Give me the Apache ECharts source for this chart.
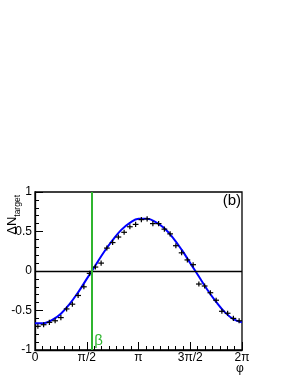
<!DOCTYPE html>
<html>
<head>
<meta charset="utf-8">
<script src="https://cdn.jsdelivr.net/npm/echarts@6/dist/echarts.min.js"></script>
<style>
html,body{margin:0;padding:0;background:#fff;}
#c{width:291px;height:376px;}
</style>
</head>
<body>
<div id="c"></div>
<script>
// x in units of pi
var binCentersPi = [];
var dataValues = [-0.70,-0.68,-0.65,-0.63,-0.59,-0.48,-0.42,-0.31,-0.20,-0.03,0.05,0.10,
  0.29,0.36,0.43,0.49,0.56,0.59,0.65,0.66,0.60,0.60,0.53,0.47,
  0.32,0.23,0.14,0.08,-0.165,-0.19,-0.275,-0.37,-0.51,-0.535,-0.60,-0.63];
var dataErr = 0.032;
var binHalfWidthPi = 1/36;
for (var i = 0; i < dataValues.length; i++) binCentersPi.push((i + 0.5) / 18);

var fitXPi = [0,0.0833,0.1667,0.25,0.3333,0.4167,0.5,0.5833,0.6667,0.75,0.8333,0.9167,1,
  1.0833,1.1667,1.25,1.3333,1.4167,1.5,1.5833,1.6667,1.75,1.8333,1.9167,2];
var fitValues = [-0.66,-0.66,-0.62,-0.54,-0.42,-0.27,-0.10,0.07,0.24,0.39,0.52,0.61,0.66,
  0.66,0.62,0.54,0.42,0.27,0.10,-0.07,-0.24,-0.39,-0.52,-0.61,-0.65];

var betaPi = 0.552;
var betaLabelY = -0.88;
var xTickLabels = {'0':'0','0.5':'π/2','1':'π','1.5':'3π/2','2':'2π'};
var yTickLabels = {'1':'1','0.5':'0.5','0':'0','-0.5':'-0.5','-1':'-1'};

var FONT = 'Liberation Sans, Arial, sans-serif';
var GREEN = '#2fb52f';
var chart = echarts.init(document.getElementById('c'), null, {renderer:'canvas'});

var pts = binCentersPi.map(function(x, i){ return [x, dataValues[i]]; });
var fit = fitXPi.map(function(x, i){ return [x, fitValues[i]]; });

chart.setOption({
  animation:false,
  backgroundColor:'#fff',
  grid:{left:35, right:49, top:192, bottom:26, show:true, borderColor:'#000', borderWidth:1.3, backgroundColor:'transparent'},
  xAxis:{
    type:'value', min:0, max:2, interval:0.5,
    axisLine:{show:true, onZero:false, lineStyle:{color:'#000', width:1.3}},
    axisTick:{show:true, inside:true, length:8, lineStyle:{color:'#000', width:1}},
    minorTick:{show:true, splitNumber:7, length:4, lineStyle:{color:'#000', width:1}},
    splitLine:{show:false},
    axisLabel:{margin:2, color:'#000', fontSize:12, fontFamily:FONT,
      formatter:function(v){ var k = String(Math.round(v*2)/2); return xTickLabels[k] !== undefined ? xTickLabels[k] : ''; }}
  },
  yAxis:{
    type:'value', min:-1, max:1, interval:0.5,
    axisLine:{show:true, onZero:false, lineStyle:{color:'#000', width:1.3}},
    axisTick:{show:true, inside:true, length:8, lineStyle:{color:'#000', width:1}},
    minorTick:{show:true, splitNumber:5, length:4, lineStyle:{color:'#000', width:1}},
    splitLine:{show:false},
    axisLabel:{margin:3, color:'#000', fontSize:12, fontFamily:FONT,
      formatter:function(v){ var k = String(Math.round(v*2)/2); return yTickLabels[k] !== undefined ? yTickLabels[k] : ''; }}
  },
  series:[
    {
      type:'line', data:fit, smooth:0.4, showSymbol:false, z:3,
      lineStyle:{color:'#0000ff', width:2},
      markLine:{silent:true, symbol:['none','none'], label:{show:false},
        data:[
          {yAxis:0, lineStyle:{color:'#000', width:1.3, type:'solid'}},
          {xAxis:betaPi, lineStyle:{color:GREEN, width:2, type:'solid'}}
        ]}
    },
    {
      type:'custom', z:4, data:pts,
      renderItem:function(params, api){
        var x = api.value(0), y = api.value(1);
        var l = api.coord([x - binHalfWidthPi, y]);
        var r = api.coord([x + binHalfWidthPi, y]);
        var t = api.coord([x, y + dataErr]);
        var b = api.coord([x, y - dataErr]);
        var st = {stroke:'#000', lineWidth:1.2};
        return {type:'group', children:[
          {type:'line', shape:{x1:l[0], y1:l[1], x2:r[0], y2:r[1]}, style:st},
          {type:'line', shape:{x1:t[0], y1:t[1], x2:b[0], y2:b[1]}, style:st}
        ]};
      }
    }
  ]
});

var bp = chart.convertToPixel({gridIndex:0}, [betaPi, betaLabelY]);
chart.setOption({
  graphic:[
    {type:'text', x:19, y:195, rotation:Math.PI/2, silent:true,
     style:{text:'{a|ΔN}{b|target}', align:'right', verticalAlign:'bottom', fill:'#000',
       rich:{a:{fontSize:13, fontFamily:FONT, fill:'#000', verticalAlign:'bottom'},
             b:{fontSize:8.5, fontFamily:FONT, fill:'#000', verticalAlign:'bottom', padding:[0,0,-3,0]}}}},
    {type:'text', right:50, top:193, silent:true,
     style:{text:'(b)', fontSize:15, fontFamily:FONT, fill:'#000'}},
    {type:'text', left:236, top:363, silent:true,
     style:{text:'φ', fontSize:12, fontFamily:FONT, fill:'#000'}},
    {type:'text', x:bp[0] + 2, y:bp[1], silent:true, z:10,
     style:{text:'β', fontSize:15, fontFamily:FONT, fill:GREEN, align:'left', verticalAlign:'middle'}}
  ]
});
</script>
</body>
</html>
